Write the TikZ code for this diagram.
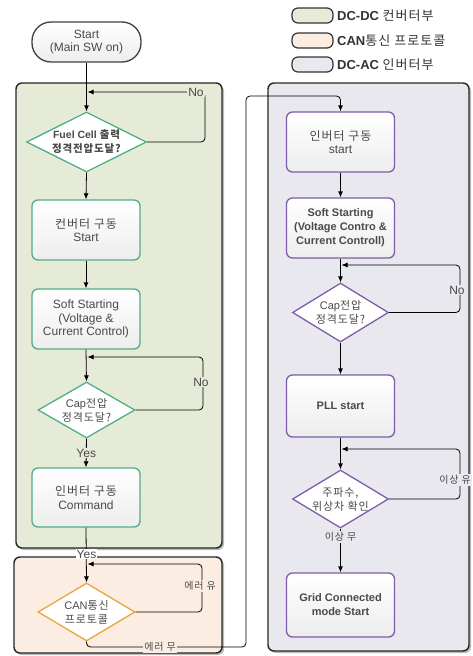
\documentclass[tikz,border=0pt]{standalone}
\usepackage{fontspec}
\setmainfont{Liberation Sans}
\newfontfamily\krfont[LetterSpace=8]{Noto Sans CJK KR}
\newcommand\kt[1]{{\krfont #1}}
\usetikzlibrary{shapes.geometric,arrows.meta,shadows}
\definecolor{gpanel}{HTML}{E6EBD8}
\definecolor{opanel}{HTML}{FBEDE2}
\definecolor{ppanel}{HTML}{E9E8EF}
\definecolor{gline}{HTML}{4FAE86}
\definecolor{pline}{HTML}{7E5DA8}
\definecolor{oline}{HTML}{E8A540}
\definecolor{txt}{HTML}{4A4A4A}
\tikzset{
  panel/.style={draw=black!85, line width=1.4pt, rounded corners=6pt,
    drop shadow={shadow xshift=2pt, shadow yshift=-2pt, fill=black!45, opacity=0.6}},
  boxbase/.style={rounded corners=6pt, line width=1.3pt, top color=white, bottom color=black!7,
    minimum width=108pt, minimum height=60pt, align=center, text=txt, inner sep=1pt,
    font=\fontsize{12}{13.5}\selectfont},
  gbox/.style={boxbase, draw=gline},
  pbox/.style={boxbase, draw=pline},
  bbold/.style={font=\fontsize{11}{14}\selectfont\bfseries},
  term/.style={boxbase, draw=black!75, rounded corners=19pt, minimum width=109pt, minimum height=40pt},
  dia/.style={diamond, line width=1.3pt, fill=white, inner sep=0pt},
  dtext/.style={align=center, text=txt, font=\fontsize{11}{14}\selectfont, inner sep=0pt},
  flow/.style={-{Latex[length=6pt,width=5pt]}, line width=0.8pt, black},
  loopline/.style={flow, rounded corners=4pt},
  lbl/.style={text=txt, font=\fontsize{12}{13}\selectfont, inner sep=1pt},
  klbl/.style={lbl, font=\fontsize{10}{12}\selectfont},
  legbox/.style={draw=black!80, line width=1.2pt, rounded corners=6pt, minimum width=41pt, minimum height=15pt, inner sep=0pt},
  legtxt/.style={anchor=west, text=black!80, font=\fontsize{13}{14}\selectfont, inner sep=0pt}
}
\begin{document}
\begin{tikzpicture}[x=1pt,y=-1pt]
\useasboundingbox (0,0) rectangle (473,656);
% panels
\path[panel, fill=gpanel] (16,83) rectangle (222,548);
\path[panel, fill=opanel] (14,557) rectangle (222,653);
\path[panel, fill=ppanel] (268,83) rectangle (469,651);
% legend
\node[legbox, fill=gpanel] (lg1) at (312.5,15.5) {};
\node[legbox, fill=opanel] (lg2) at (312.5,40.5) {};
\node[legbox, fill=ppanel] (lg3) at (312.5,64.5) {};
\node[legtxt] (lt1) at (337,16) {\textbf{DC-DC} \kt{컨버터부}};
\node[legtxt] (lt2) at (337,40.5) {\textbf{CAN}\kt{통신 프로토콜}};
\node[legtxt] (lt3) at (337,65) {\textbf{DC-AC} \kt{인버터부}};
% left column
\node[term] (start) at (86.5,42) {Start\\(Main SW on)};
\node[dia, draw=gline, minimum width=120pt, minimum height=60pt] (d1) at (86.5,142) {};
\node[dtext, font=\fontsize{10.5}{14}\selectfont\bfseries] (d1t) at (86.5,142) {Fuel Cell \kt{출력}\\\kt{정격전압도달?}};
\node[gbox] (conv) at (86,230) {\kt{컨버터 구동}\\Start};
\node[gbox] (soft) at (86,319) {Soft Starting\\(Voltage \&\\Current Control)};
\node[dia, draw=gline, minimum width=97pt, minimum height=56pt] (cap1) at (86.5,410) {};
\node[dtext] (cap1t) at (86.5,410) {Cap\kt{전압}\\\kt{정격도달?}};
\node[gbox, minimum height=59pt] (cmd) at (86,497.5) {\kt{인버터 구동}\\Command};
\node[dia, draw=oline, minimum width=97pt, minimum height=58pt] (can) at (86.5,612) {};
\node[dtext] (cant) at (86.5,612) {CAN\kt{통신}\\\kt{프로토콜}};
% right column
\node[pbox] (inv) at (340.5,142) {\kt{인버터 구동}\\start};
\node[pbox, bbold] (soft2) at (340.5,228) {Soft Starting\\(Voltage Contro \&\\Current Controll)};
\node[dia, draw=pline, minimum width=96pt, minimum height=59pt] (cap2) at (340.5,312.5) {};
\node[dtext] (cap2t) at (340.5,312.5) {Cap\kt{전압}\\\kt{정격도달?}};
\node[pbox, bbold, minimum height=62pt] (pll) at (340.5,406) {PLL start};
\node[dia, draw=pline, minimum width=96pt, minimum height=58pt] (frq) at (340.5,499) {};
\node[dtext] (frqt) at (340.5,499) {\kt{주파수,}\\\kt{위상차 확인}};
\node[pbox, bbold, minimum height=64pt] (grid) at (340.5,605) {Grid Connected\\mode Start};
% coordinates
\coordinate (j1) at (86.5,92);
\coordinate (j2) at (86.5,357);
\coordinate (j3) at (86.5,564);
\coordinate (j4) at (340.5,265);
\coordinate (j5) at (340.5,449);
% main flow
\draw[flow] (start) -- (d1.north);
\draw[flow] (d1.south) -- (conv.north);
\draw[flow] (conv) -- (soft);
\draw[flow] (soft.south) -- (cap1.north);
\draw[flow] (cap1.south) -- node[lbl, fill=gpanel] (yes1) {Yes} (cmd.north);
\draw[flow] (cmd.south) -- (can.north);
\node[lbl, fill=white] (yes2) at (86.5,554) {Yes};
\draw[flow] (inv) -- (soft2);
\draw[flow] (soft2.south) -- (cap2.north);
\draw[flow] (cap2.south) -- (pll.north);
\draw[flow] (pll.south) -- (frq.north);
\draw[flow] (frq.south) -- (grid.north);
\node[klbl, fill=ppanel] (nomu) at (340.5,537) {\kt{이상 무}};
% loops
\draw[loopline] (d1.east) -- (205,142) -- (205,92) -- ([xshift=1pt]j1);
\node[lbl, fill=gpanel] (no1) at (196,92) {No};
\draw[loopline] (cap1.east) -- (203,410) -- (203,357) -- ([xshift=1pt]j2);
\node[lbl, fill=gpanel] (no2) at (201,382) {No};
\draw[loopline] (can.east) -- (202,612) -- (202,564) -- ([xshift=1pt]j3);
\node[klbl, fill=opanel] (err1) at (200,586) {\kt{에러 유}};
\draw[loopline] (cap2.east) -- (460,312.5) -- (460,265) -- ([xshift=1pt]j4);
\node[lbl, fill=ppanel] (no3) at (457,290) {No};
\draw[loopline] (frq.east) -- (460,499) -- (460,449) -- ([xshift=1pt]j5);
\node[klbl, fill=ppanel, anchor=east] (err2) at (472,480) {\kt{이상 유}};
% CAN -> inverter
\draw[loopline] (can.south) -- (86.5,647) -- (246,647) -- (246,96) -- (340.5,96) -- (inv.north);
\node[klbl, fill=opanel] (err0) at (160,647) {\kt{에러 무}};
\end{tikzpicture}
\end{document}
